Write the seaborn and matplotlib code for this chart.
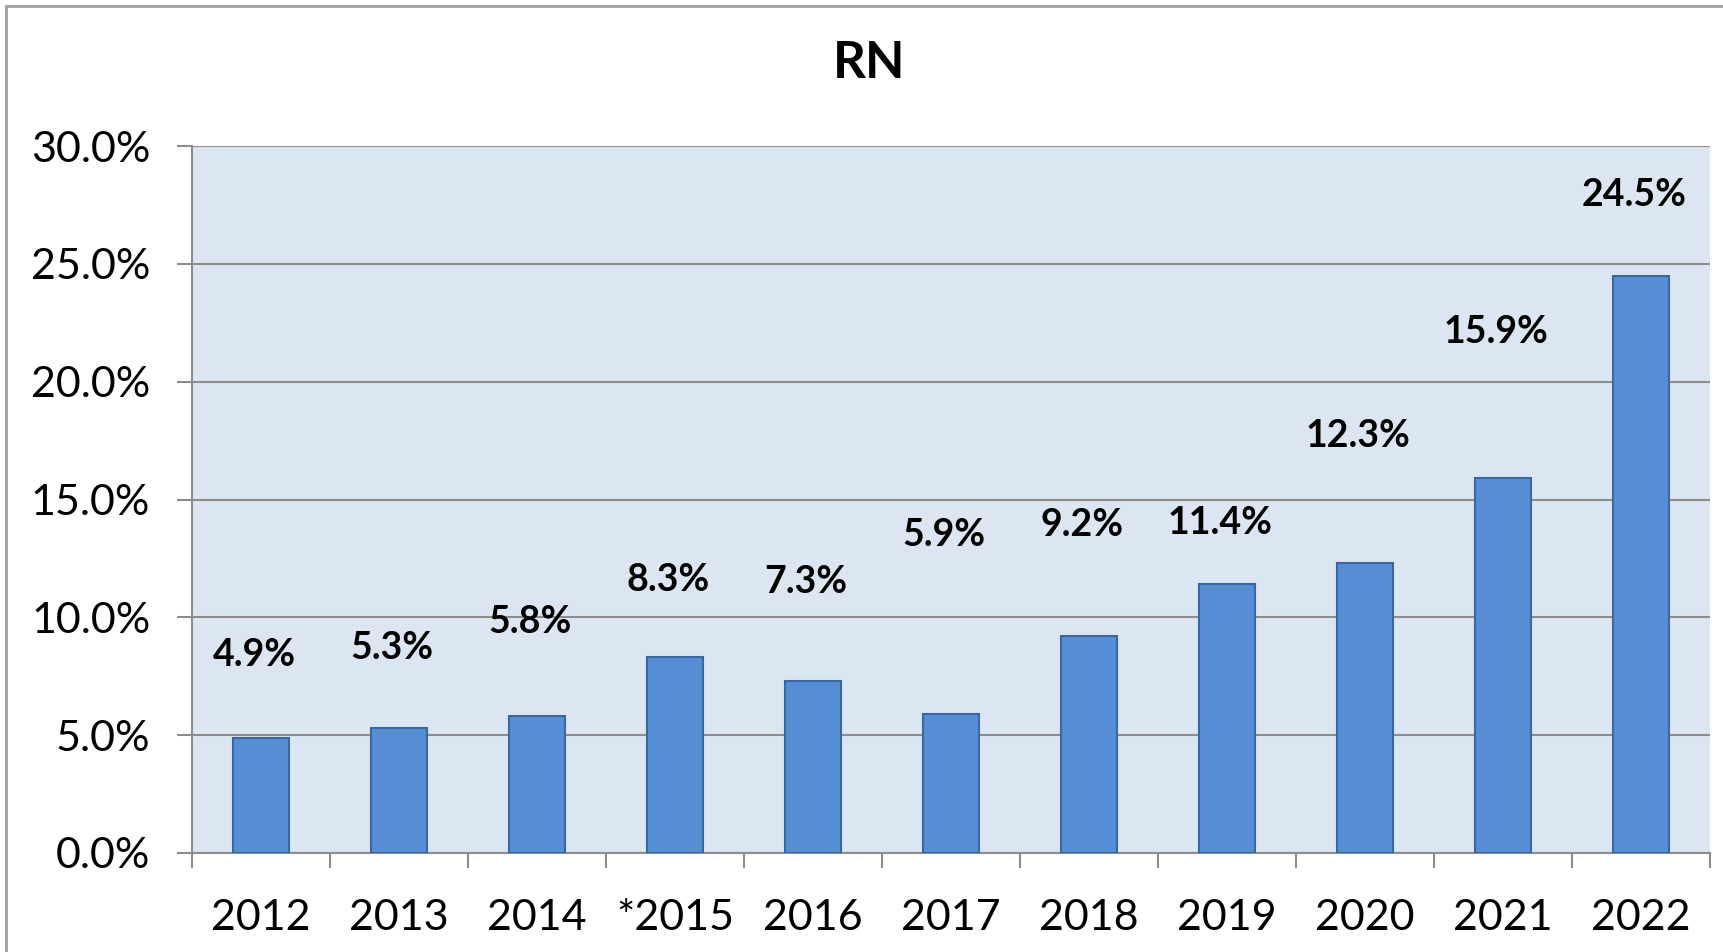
"""
RN yearly rate bar chart
"""

import numpy as np
import pandas as pd
import matplotlib
matplotlib.use('Agg')
import matplotlib.pyplot as plt
from matplotlib.patches import Rectangle
from matplotlib.ticker import FuncFormatter, FixedLocator
import seaborn as sns

# Data
years = ['2012', '2013', '2014', '*2015', '2016', '2017', '2018', '2019', '2020', '2021', '2022']
rates = [4.9, 5.3, 5.8, 8.3, 7.3, 5.9, 9.2, 11.4, 12.3, 15.9, 24.5]
# where the data labels sit (in % units, placed by hand in the original)
label_heights = [8.4, 8.7, 9.8, 11.6, 11.5, 13.5, 13.9, 14.0, 17.7, 22.1, 27.9]

BAR_COLOR = '#558ED5'
EDGE_COLOR = '#3A679E'
BG_COLOR = '#DCE6F2'
GRID_COLOR = '#8C8C8C'

sns.set_theme(style='white')
plt.rcParams['font.family'] = ['Lato', 'DejaVu Sans']

df = pd.DataFrame({'year': years, 'rate': rates})

fig = plt.figure(figsize=(17.23, 9.52), dpi=100)
ax = fig.add_axes([192 / 1723, 1 - 853 / 952, (1710 - 192) / 1723, (853 - 146) / 952])

sns.barplot(data=df, x='year', y='rate', color=BAR_COLOR, width=0.405,
            edgecolor=EDGE_COLOR, linewidth=1.5, saturation=1, ax=ax, zorder=3)

ax.set_facecolor(BG_COLOR)
ax.set_xlim(-0.5, len(years) - 0.5)
ax.set_ylim(0, 30)
ax.set_yticks(np.arange(0, 31, 5))
ax.yaxis.set_major_formatter(FuncFormatter(lambda v, _: f'{v:.1f}%'))
ax.grid(axis='y', color=GRID_COLOR, linewidth=1.5, zorder=0)
ax.set_axisbelow(True)
ax.set_xlabel('')
ax.set_ylabel('')

for side in ['top', 'right']:
    ax.spines[side].set_visible(False)
for side in ['left', 'bottom']:
    ax.spines[side].set_color(GRID_COLOR)
    ax.spines[side].set_linewidth(1.5)

ax.tick_params(axis='y', length=11, width=1.5, color=GRID_COLOR, pad=19,
               labelsize=31, labelcolor='black', left=True)
ax.tick_params(axis='x', which='major', length=0, pad=33, labelsize=31, labelcolor='black')
ax.xaxis.set_minor_locator(FixedLocator(np.arange(-0.5, len(years), 1.0)))
ax.tick_params(axis='x', which='minor', length=11, width=1.5, color=GRID_COLOR, bottom=True)

for i, (r, h) in enumerate(zip(rates, label_heights)):
    ax.text(i - 0.05, h, f'{r:.1f}%', ha='center', va='center',
            fontsize=27, fontweight='bold', color='black', zorder=4)

fig.text(869 / 1723, 1 - 63 / 952, 'RN', ha='center', va='center',
         fontsize=37, fontweight='bold', color='black')

# outer chart border (cut off on the right and bottom like the original)
fig.patches.append(Rectangle((6 / 1723, -0.1), 1.2, 1.1 - 6 / 952,
                             transform=fig.transFigure, fill=False,
                             edgecolor='#A0A0A0', linewidth=2))

fig.savefig('out.png', dpi=100)
